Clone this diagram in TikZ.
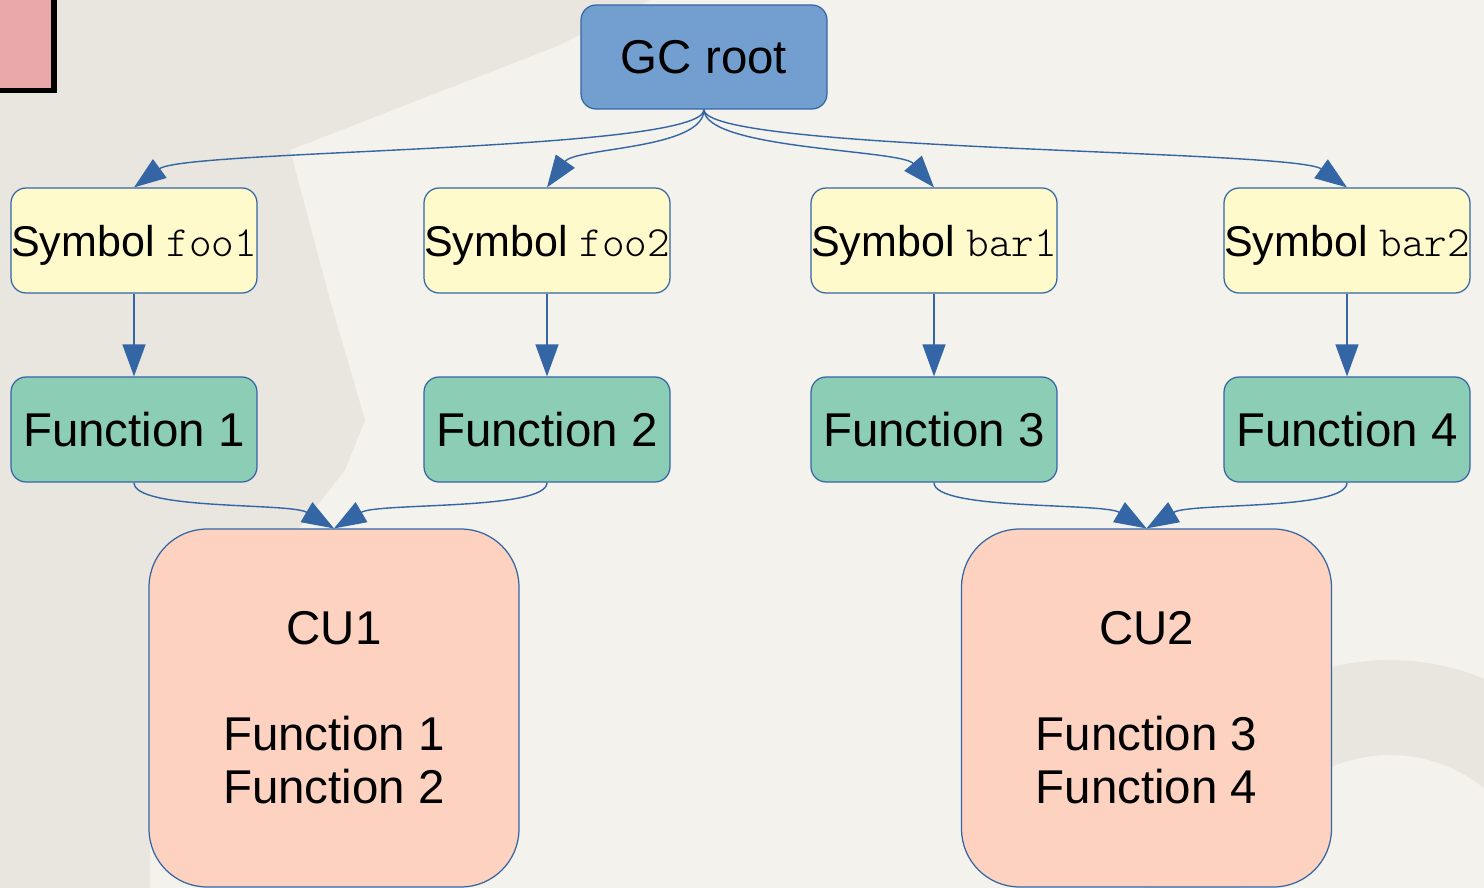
\documentclass[tikz,border=0pt]{standalone}
\usepackage{fontspec}
\setmainfont{Liberation Sans}
\setmonofont{Latin Modern Mono Light}
\usetikzlibrary{arrows.meta}
\definecolor{bg}{HTML}{F4F2EC}
\definecolor{wm}{HTML}{E9E6DF}
\definecolor{edge}{HTML}{3465A4}
\definecolor{gcfill}{HTML}{729FCF}
\definecolor{symfill}{HTML}{FFFACC}
\definecolor{funfill}{HTML}{8CCDB5}
\definecolor{cufill}{HTML}{FDD2C0}
\definecolor{pinkfill}{HTML}{EBA8AA}
\begin{document}
\begin{tikzpicture}[x=0.02cm,y=-0.02cm,
  box/.style={draw=edge,line width=0.7pt,rounded corners=0.3cm,minimum width=4.92cm,
    minimum height=2.1cm,inner sep=0pt,text depth=0pt},
  gcbox/.style={box,fill=gcfill,minimum height=2.08cm,font=\fontsize{27}{30.2}\selectfont},
  symbox/.style={box,fill=symfill,font=\fontsize{24.5}{28}\selectfont},
  funbox/.style={box,fill=funfill,font=\fontsize{27}{30.2}\selectfont},
  cubox/.style={draw=edge,line width=0.7pt,fill=cufill,rounded corners=1.16cm,
    minimum width=7.4cm,minimum height=7.16cm,inner sep=0pt,align=center,
    font=\fontsize{27}{30.2}\selectfont},
  conn/.style={draw=edge,line width=0.8pt,-{Triangle[length=0.64cm,width=0.46cm]}}]
\useasboundingbox (0,0) rectangle (1484,888);
\begin{scope}
  \clip (0,0) rectangle (1484,888);
  \fill[bg] (0,0) rectangle (1484,888);
  \fill[wm] (0,0) -- (650,0) -- (560,45) -- (290,150) -- (330,300) -- (365,420)
    -- (345,470) -- (290,540) -- (150,640) -- (150,888) -- (0,888) -- cycle;
  \fill[wm,even odd rule] (1390,905) circle[radius=4.9cm] (1390,905) circle[radius=3cm];
  \fill[pinkfill] (-5,-5) rectangle (54,90);
  \draw[line width=3.2pt] (54,-5) -- (54,90.5) -- (-5,90.5);
\end{scope}

\node[gcbox] (gc) at (704,57) {GC root};

\node[symbox] (s1) at (134,240.5) {Symbol \texttt{foo1}};
\node[symbox] (s2) at (547,240.5) {Symbol \texttt{foo2}};
\node[symbox] (s3) at (934,240.5) {Symbol \texttt{bar1}};
\node[symbox] (s4) at (1347,240.5) {Symbol \texttt{bar2}};

\node[funbox] (f1) at (134,429.5) {Function 1};
\node[funbox] (f2) at (547,429.5) {Function 2};
\node[funbox] (f3) at (934,429.5) {Function 3};
\node[funbox] (f4) at (1347,429.5) {Function 4};

\node[cubox] (cu1) at (334,708) {CU1\\[30.2pt]Function 1\\Function 2};
\node[cubox] (cu2) at (1146.5,708) {CU2\\[30.2pt]Function 3\\Function 4};

\draw[conn] (gc.south) .. controls +(0,42) and +(52,-38) .. (s1.north);
\draw[conn] (gc.south) .. controls +(0,40) and +(28,-40) .. (s2.north);
\draw[conn] (gc.south) .. controls +(0,40) and +(-33,-38) .. (s3.north);
\draw[conn] (gc.south) .. controls +(0,42) and +(-53,-38) .. (s4.north);

\draw[conn] (s1) -- (f1);
\draw[conn] (s2) -- (f2);
\draw[conn] (s3) -- (f3);
\draw[conn] (s4) -- (f4);

\draw[conn] (f1.south) .. controls +(0,28) and +(-44,-26) .. (cu1.north);
\draw[conn] (f2.south) .. controls +(0,28) and +(44,-26) .. (cu1.north);
\draw[conn] (f3.south) .. controls +(0,28) and +(-44,-26) .. (cu2.north);
\draw[conn] (f4.south) .. controls +(0,28) and +(44,-26) .. (cu2.north);
\end{tikzpicture}
\end{document}
